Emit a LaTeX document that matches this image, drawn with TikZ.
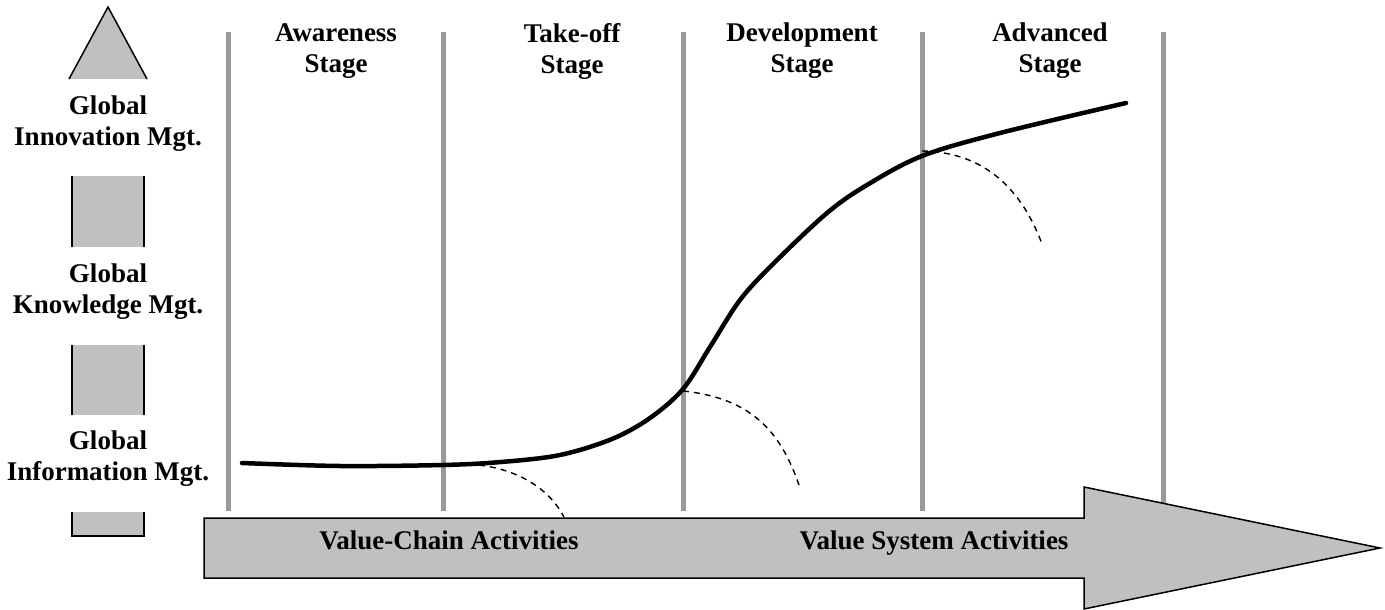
\documentclass[tikz,border=0pt]{standalone}
\usepackage{fontspec}
\setmainfont{Liberation Serif}
\definecolor{blockgray}{RGB}{192,192,192}
\definecolor{rulegray}{RGB}{153,153,153}
\tikzset{
  label text/.style={font=\fontsize{27}{31}\selectfont\bfseries, inner sep=0pt, align=center},
  divider/.style={draw=rulegray, line width=5pt},
  trend/.style={line width=4.5pt, line cap=round},
  spinoff/.style={line width=1.4pt, dash pattern=on 6pt off 5pt},
  block/.style={fill=blockgray},
  outline/.style={line width=1.5pt, line join=miter}
}
\begin{document}
\begin{tikzpicture}[x=1pt, y=-1pt]
              \useasboundingbox (0,0) rectangle (1385,610);

              % stage dividers
              \draw[divider] (228,32) -- (228,511);
              \draw[divider] (443,32) -- (443,511);
              \draw[divider] (683,32) -- (683,511);
              \draw[divider] (922,32) -- (922,511);
              \draw[divider] (1163,32) -- (1163,506);

              \node[label text] (aware)   at (336,51)  {Awareness\\Stage};
              \node[label text] (takeoff) at (572,51)  {Take-off\\Stage};
              \node[label text] (devel)   at (802,51)  {Development\\Stage};
              \node[label text] (adv)     at (1050,51) {Advanced\\Stage};

              % left column: head and pieces
              \fill[block] (69,79) -- (108,7) -- (147,79) -- cycle;
              \draw[outline] (69,79) -- (108,7) -- (147,79);
              \fill[block] (72,176) rectangle (144,247);
              \draw[outline] (72,176) -- (72,247) (144,176) -- (144,247);
              \fill[block] (72,345) rectangle (144,415);
              \draw[outline] (72,345) -- (72,415) (144,345) -- (144,415);
              \fill[block] (72,512) rectangle (144,536);
              \draw[outline] (72,512) -- (72,536) -- (144,536) -- (144,512);

              \node[label text] (innov) at (108,124) {Global\\Innovation Mgt.};
              \node[label text] (knowl) at (108,292) {Global\\Knowledge Mgt.};
              \node[label text] (info)  at (108,459) {Global\\Information Mgt.};

              % big arrow
              \draw[block, outline] (204,518) -- (1084,518) -- (1084,487) -- (1380,548)
                  -- (1084,609) -- (1084,578) -- (204,578) -- cycle;
              \node[label text, anchor=base] (chain)  at (449,549) {Value-Chain Activities};
              \node[label text, anchor=base] (system) at (934,549) {Value System Activities};

              % growth curve
              \draw[trend] plot[smooth, tension=0.55] coordinates {
                  (242,463) (340,466) (443,465) (501,462) (560,455) (612,439)
                  (650,418) (683,389) (710,347) (740,300) (773,264) (827,213)
                  (867,185) (922,156) (1000,133) (1126,103)};

              \coordinate (D1) at (479,465);
              \coordinate (D2) at (683,391);
              \coordinate (D3) at (922,151);
              \draw[spinoff] (D1) .. controls (520,470) and (550,490) .. (564,517);
              \draw[spinoff] (D2) .. controls (750,398) and (780,430) .. (799,485);
              \draw[spinoff] (D3) .. controls (985,152) and (1022,190) .. (1042,244);
\end{tikzpicture}
\end{document}
